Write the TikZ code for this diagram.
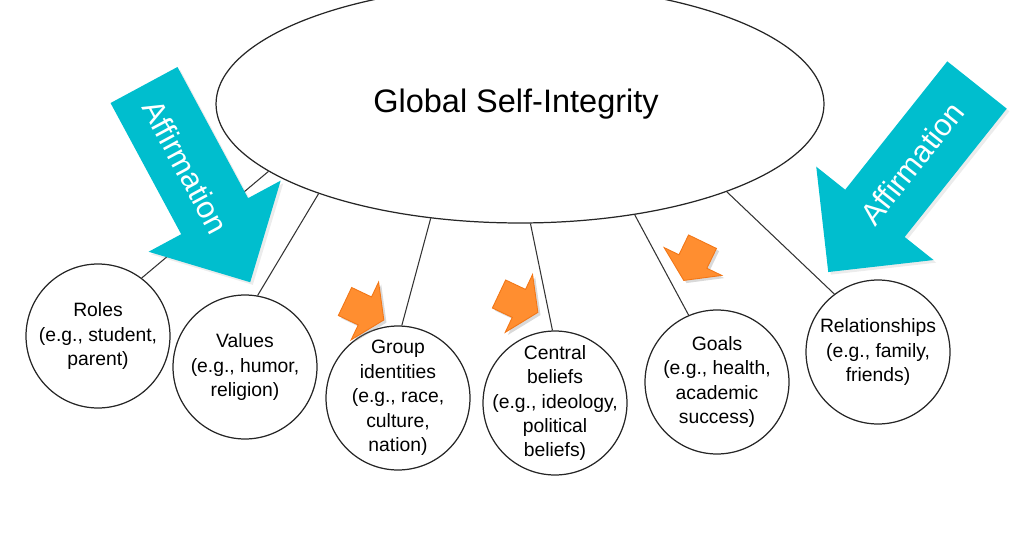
\documentclass[tikz,border=0pt]{standalone}
\usepackage{fontspec}
\setmainfont{Liberation Sans}
\usetikzlibrary{shapes.geometric, shadows}

\definecolor{affirmcyan}{RGB}{0,190,206}
\definecolor{nudgeorange}{RGB}{255,142,48}
\definecolor{nudgeedge}{RGB}{242,118,22}

\tikzset{
  areabox/.style={circle, draw=black!85, line width=0.7pt, minimum size=2.88cm, inner sep=-10pt, align=center, font=\fontsize{11}{13.9}\selectfont},
  link/.style={draw=black!80, line width=0.6pt},
  affirm/.style={fill=affirmcyan, drop shadow={opacity=0.15, shadow xshift=1.5pt, shadow yshift=-1.5pt}},
  affirmtext/.style={text=white, font=\fontsize{17.5}{20}\selectfont, inner sep=0pt},
  nudge/.style={fill=nudgeorange, draw=nudgeedge, line width=0.5pt, drop shadow={opacity=0.3, shadow xshift=1.5pt, shadow yshift=-1.5pt}}
}

\begin{document}
\begin{tikzpicture}[x=0.02cm, y=-0.02cm]
  \useasboundingbox (0,0) rectangle (1023,537);
  \clip (0,0) rectangle (1023,537);

  % global self
  \node[ellipse, draw=black!85, line width=0.7pt, minimum width=12.16cm, minimum height=4.76cm, inner sep=0pt, font=\fontsize{18.5}{22}\selectfont] (glob) at (520,104) {\kern-0.16cm Global Self-Integrity};

  % areas of the self
  \node[areabox] (roles) at (98,336) {Roles\\(e.g., student,\\parent)};
  \node[areabox] (values) at (245,367) {Values\\(e.g., humor,\\religion)};
  \node[areabox] (group) at (398,398) {Group\\identities\\(e.g., race,\\culture,\\nation)};
  \node[areabox] (beliefs) at (555,403) {Central\\beliefs\\(e.g., ideology,\\political\\beliefs)};
  \node[areabox] (goals) at (717,382) {Goals\\(e.g., health,\\academic\\success)};
  \node[areabox] (relations) at (878,352) {Relationships\\(e.g., family,\\friends)};

  % spokes
  \draw[link] (glob.195) -- (roles.53);
  \draw[link] (glob.204.4) -- (values.80);
  \draw[link] (glob.232.6) -- (group.87);
  \draw[link] (glob.275.8) -- (beliefs.92);
  \draw[link] (glob.316.5) -- (goals.113);
  \draw[link] (glob.337.8) -- (relations.127);

  % affirmation arrows
  \fill[affirm, shift={(144,85)}, rotate=-61.7] (0,-38) -- (149,-38) -- (149,-75) -- (224,0) -- (149,75) -- (149,38) -- (0,38) -- cycle;
  \node[affirmtext, rotate=-61.7] (affleft) at (185.6,167) {Affirmation};
  \fill[affirm, shift={(977,85)}, rotate=-128.5] (0,-38) -- (164,-38) -- (164,-75) -- (239,0) -- (164,75) -- (164,38) -- (0,38) -- cycle;
  \node[affirmtext, rotate=51.5] (affright) at (912,163.5) {Affirmation};

  % small orange arrows
  \filldraw[nudge, shift={(345,301.5)}, rotate=-25.4] (0,-15.5) -- (22,-15.5) -- (22,-32) -- (43,0) -- (22,32) -- (22,15.5) -- (0,15.5) -- cycle;
  \filldraw[nudge, shift={(499,294)}, rotate=-25.3] (0,-15.5) -- (22,-15.5) -- (22,-32) -- (43,0) -- (22,32) -- (22,15.5) -- (0,15.5) -- cycle;
  \filldraw[nudge, shift={(702.5,241.7)}, rotate=-115.8] (0,-15.5) -- (22,-15.5) -- (22,-32) -- (43,0) -- (22,32) -- (22,15.5) -- (0,15.5) -- cycle;
\end{tikzpicture}
\end{document}
